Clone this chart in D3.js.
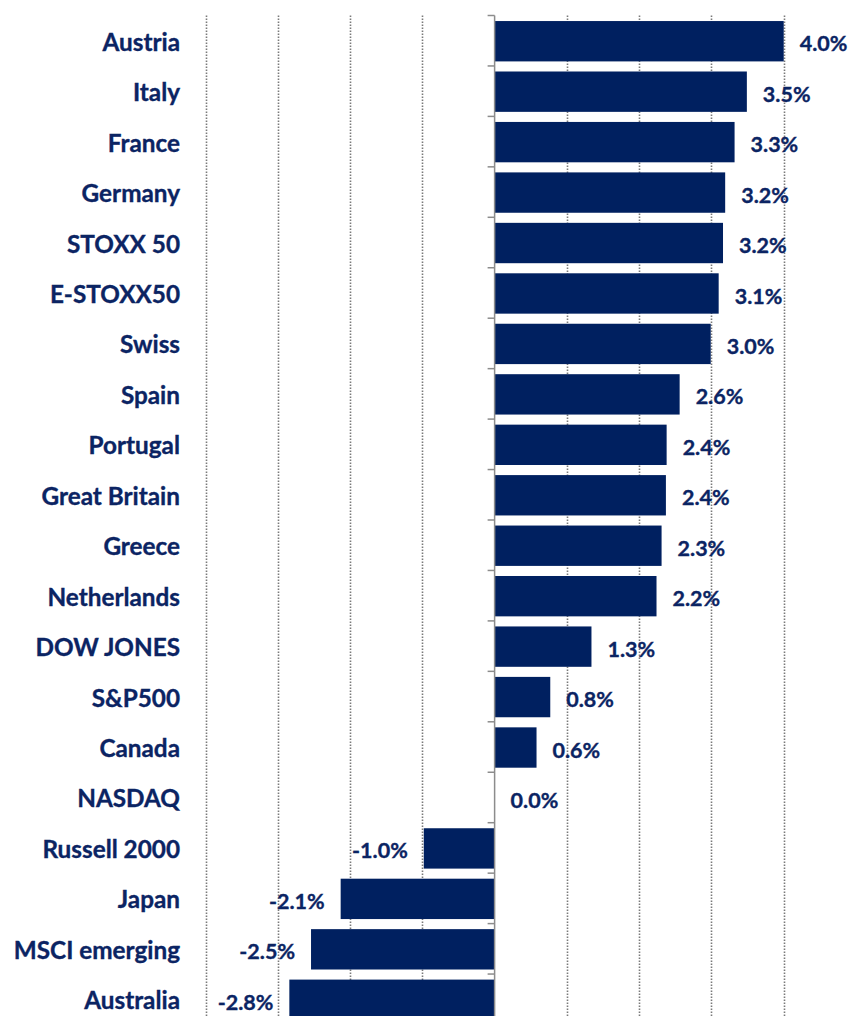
<!DOCTYPE html>
<html>
<head>
<meta charset="utf-8">
<script src="https://cdn.jsdelivr.net/npm/d3@7"></script>
<style>
  html, body { margin: 0; padding: 0; background: #fff; }
  svg { display: block; }
  text { font-family: Lato, "Noto Sans", sans-serif; font-weight: 700; }
</style>
</head>
<body>
<svg id="chart" width="850" height="1016"></svg>
<script>
const categories = ["Austria","Italy","France","Germany","STOXX 50","E-STOXX50","Swiss","Spain","Portugal","Great Britain","Greece","Netherlands","DOW JONES","S&P500","Canada","NASDAQ","Russell 2000","Japan","MSCI emerging","Australia"];
const values = [4.0, 3.49, 3.32, 3.19, 3.16, 3.1, 2.99, 2.56, 2.38, 2.37, 2.31, 2.24, 1.34, 0.77, 0.58, 0.0, -0.98, -2.13, -2.54, -2.84];
const gridTicks = [-4, -3, -2, -1, 1, 2, 3, 4, 5];

const W = 850, H = 1016;
const svg = d3.select("#chart");
const barColor = "#002060";
const textColor = "#0b2463";

const x = d3.scaleLinear().domain([-4, 5]).range([205.5, 856]);
const y = d3.scaleBand().domain(categories).range([15.5, 1024.5]).paddingInner(0.2).paddingOuter(0.1);
const step = y.step();
const y0 = 15.5;

// gridlines
svg.append("g").selectAll("line").data(gridTicks).join("line")
  .attr("x1", d => Math.round(x(d)) + 0.5).attr("x2", d => Math.round(x(d)) + 0.5)
  .attr("y1", y0).attr("y2", H)
  .attr("stroke", "#7a7a7a").attr("stroke-width", 1.6)
  .attr("stroke-dasharray", "1.5,1.5");

// bars
const data = categories.map((c, i) => ({c, v: values[i]}));
svg.append("g").selectAll("rect").data(data).join("rect")
  .attr("x", d => x(Math.min(0, d.v)))
  .attr("width", d => Math.abs(x(d.v) - x(0)))
  .attr("y", d => y(d.c) + 0.5)
  .attr("height", y.bandwidth())
  .attr("fill", barColor);

// axis line at zero with ticks at band boundaries
const ax = svg.append("g").attr("stroke", "#8c8c8c").attr("stroke-width", 1.5);
ax.append("line").attr("x1", x(0)).attr("x2", x(0)).attr("y1", y0).attr("y2", H);
ax.selectAll("line.tick").data(d3.range(categories.length + 1)).join("line")
  .attr("class", "tick")
  .attr("x1", x(0) - 7).attr("x2", x(0))
  .attr("y1", i => y0 + i * step).attr("y2", i => y0 + i * step);

// category labels
svg.append("g").selectAll("text").data(data).join("text")
  .attr("x", 180)
  .attr("y", d => y(d.c) + y.bandwidth() / 2 + 1.5)
  .attr("dy", "0.35em")
  .attr("text-anchor", "end")
  .attr("fill", textColor)
  .attr("stroke", textColor).attr("stroke-width", 0.35)
  .attr("font-size", 24.3)
  .text(d => d.c);

// value labels
const fmt = v => (v < 0 ? "-" : "") + Math.abs(v).toFixed(1) + "%";
svg.append("g").selectAll("text").data(data).join("text")
  .attr("x", d => d.v >= 0 ? x(d.v) + 16 : x(d.v) - 16)
  .attr("y", d => y(d.c) + y.bandwidth() / 2 + 3)
  .attr("dy", "0.35em")
  .attr("text-anchor", d => d.v >= 0 ? "start" : "end")
  .attr("fill", textColor)
  .attr("stroke", textColor).attr("stroke-width", 0.35)
  .attr("font-size", 21.5)
  .text(d => fmt(d.v));
</script>
</body>
</html>
